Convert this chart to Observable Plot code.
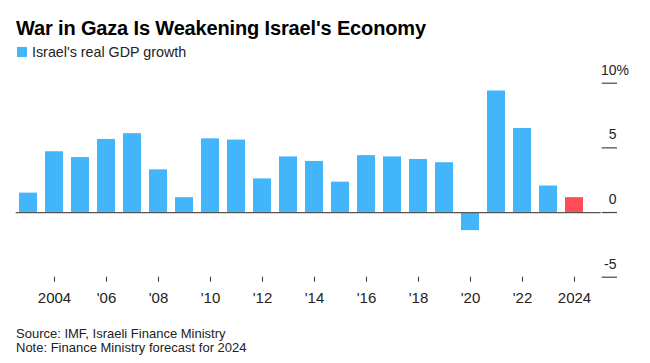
<!DOCTYPE html>
<html>
<head>
<meta charset="utf-8">
<script src="https://cdn.jsdelivr.net/npm/d3@7"></script>
<script src="https://cdn.jsdelivr.net/npm/@observablehq/plot@0.6"></script>
<style>
  html, body { margin: 0; padding: 0; background: #fff; }
  body { width: 650px; height: 363px; position: relative; overflow: hidden; font-family: "Liberation Sans", Arial, sans-serif; color: #222; }
  #title { position: absolute; left: 16px; top: 17.8px; font-size: 20px; line-height: 20px; font-weight: bold; color: #000; letter-spacing: -0.15px; white-space: nowrap; }
  #legend { position: absolute; left: 17px; top: 44.6px; font-size: 14.3px; line-height: 14.3px; white-space: nowrap; }
  #legend .sw { position: absolute; left: 0; top: 2.7px; width: 10px; height: 10px; }
  #legend .lab { position: absolute; left: 15px; top: 0; }
  #chart { position: absolute; left: 0; top: 62px; }
  #notes { position: absolute; left: 16px; top: 326.8px; font-size: 13px; line-height: 14px; color: #222; white-space: nowrap; }
</style>
</head>
<body>
<div id="title"></div>
<div id="legend"><span class="sw"></span><span class="lab"></span></div>
<div id="chart"></div>
<div id="notes"></div>
<script>
const titleText = "War in Gaza Is Weakening Israel's Economy";
const seriesName = "Israel's real GDP growth";
const sourceLines = ["Source: IMF, Israeli Finance Ministry", "Note: Finance Ministry forecast for 2024"];

const years = [2003, 2004, 2005, 2006, 2007, 2008, 2009, 2010, 2011, 2012, 2013, 2014, 2015, 2016, 2017, 2018, 2019, 2020, 2021, 2022, 2023, 2024];
const growth = [1.5, 4.7, 4.25, 5.65, 6.1, 3.3, 1.15, 5.7, 5.6, 2.6, 4.3, 3.95, 2.35, 4.4, 4.3, 4.1, 3.85, -1.4, 9.4, 6.5, 2.05, 1.15];
const forecastYears = [2024];

const yTicks = [-5, 0, 5, 10];
const xTickYears = [2004, 2006, 2008, 2010, 2012, 2014, 2016, 2018, 2020, 2022, 2024];
const xTickLabels = ["2004", "'06", "'08", "'10", "'12", "'14", "'16", "'18", "'20", "'22", "2024"];

const blue = "#43b6fb";
const red = "#ff4d58";

const data = years.map((year, i) => ({year, value: growth[i], forecast: forecastYears.includes(year)}));

document.getElementById("title").textContent = titleText;
document.querySelector("#legend .sw").style.background = blue;
document.querySelector("#legend .lab").textContent = seriesName;
document.getElementById("notes").innerHTML = sourceLines.map(s => `<div>${s}</div>`).join("");

const chart = Plot.plot({
  width: 650,
  height: 248,
  marginTop: 20.7,
  marginBottom: 33.3,
  marginLeft: 15.7,
  marginRight: 49.3,
  style: {fontFamily: "'Liberation Sans', Arial, sans-serif", fontSize: "15px", color: "#222", background: "white", overflow: "visible"},
  x: {type: "band", domain: years, range: [15.7, 585.7], paddingInner: 0.3, paddingOuter: 0, label: null},
  y: {domain: [-5, 10], label: null},
  marks: [
    Plot.barY(data, {x: "year", y: "value", fill: d => d.forecast ? red : blue}),
    Plot.ruleY([0], {stroke: "#555", strokeWidth: 1.2}),
    Plot.axisX({ticks: xTickYears, tickFormat: d => xTickLabels[xTickYears.indexOf(d)], tickSize: 5, tickPadding: 10, stroke: "#333", fontSize: 15, label: null}),
    Plot.axisY({anchor: "right", ticks: yTicks, tickSize: 15.3, tickFormat: () => "", stroke: "#444", strokeWidth: 1.2, label: null}),
    Plot.text(yTicks, {y: d => d, text: d => String(d), frameAnchor: "right", textAnchor: "end", dx: 15.3, dy: -13, fontSize: 14, fill: "#222"}),
    Plot.text([10], {y: d => d, text: () => "%", frameAnchor: "right", textAnchor: "start", dx: 15.3, dy: -13, fontSize: 14, fill: "#222"})
  ]
});
document.getElementById("chart").appendChild(chart);
</script>
</body>
</html>
